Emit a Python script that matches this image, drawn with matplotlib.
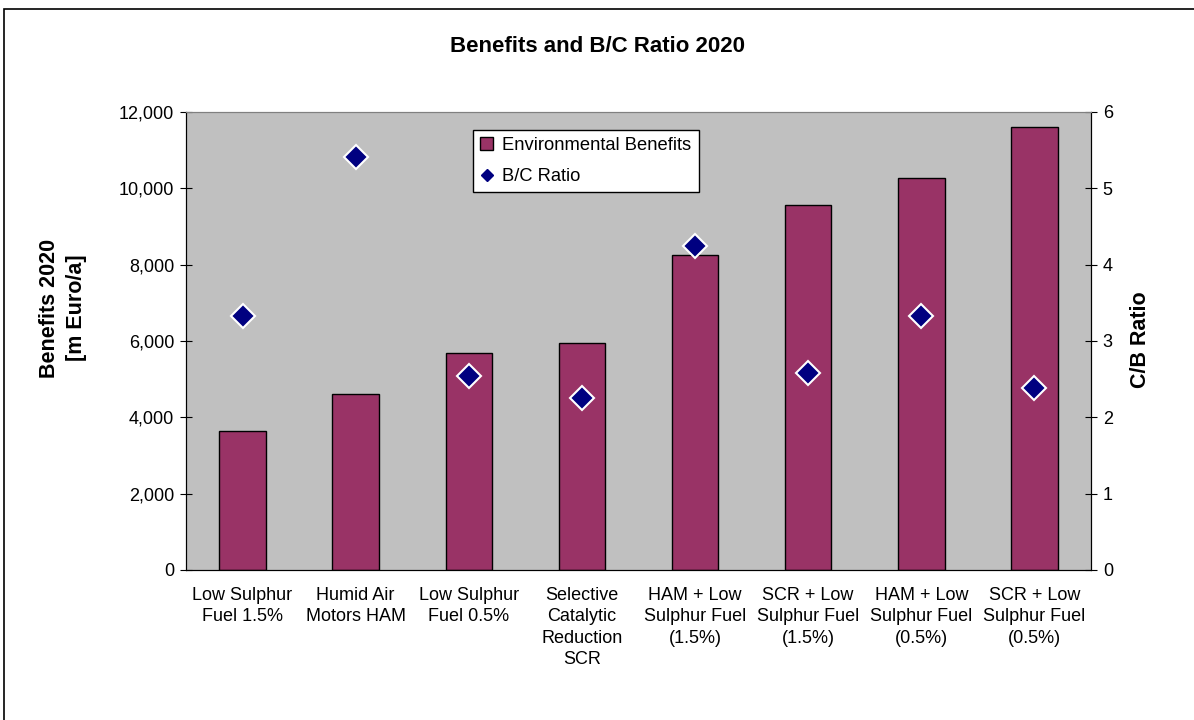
import matplotlib
matplotlib.use("Agg")
import matplotlib.pyplot as plt
from matplotlib.lines import Line2D
from matplotlib.patches import Patch, Rectangle
from matplotlib.ticker import FuncFormatter

import numpy as np

plt.rcParams['font.family'] = ['Liberation Sans', 'DejaVu Sans']

categories = ["Low Sulphur\nFuel 1.5%", "Humid Air\nMotors HAM", "Low Sulphur\nFuel 0.5%",
              "Selective\nCatalytic\nReduction\nSCR", "HAM + Low\nSulphur Fuel\n(1.5%)",
              "SCR + Low\nSulphur Fuel\n(1.5%)", "HAM + Low\nSulphur Fuel\n(0.5%)",
              "SCR + Low\nSulphur Fuel\n(0.5%)"]
benefits = [3640, 4610, 5680, 5950, 8250, 9570, 10270, 11600]
bc_ratio = [3.33, 5.41, 2.54, 2.25, 4.24, 2.58, 3.33, 2.38]

W, H = 1194, 720
fig = plt.figure(figsize=(W / 100, H / 100), dpi=100)

# plot area in pixels: x 186..1091, y 112..570
ax = fig.add_axes([186 / W, 1 - 570 / H, (1091 - 186) / W, (570 - 112) / H])
ax.set_facecolor("#C0C0C0")
x = np.arange(len(categories))
ax.bar(x, benefits, width=0.41, color="#993366", edgecolor="black", linewidth=1, zorder=2)
ax.set_xlim(-0.5, len(categories) - 0.5)
ax.set_ylim(0, 12000)
ax.set_yticks(np.arange(0, 12001, 2000))
ax.yaxis.set_major_formatter(FuncFormatter(lambda v, p: f"{int(v):,}"))
ax.set_xticks(x)
ax.set_xticklabels(categories, fontsize=13, linespacing=1.35)
ax.tick_params(axis="x", length=0, pad=12)
ax.tick_params(axis="y", direction="inout", length=9, labelsize=13, pad=4)

ax2 = ax.twinx()
ax2.plot(x, bc_ratio, linestyle="none", marker="D", markersize=12,
         markerfacecolor="#000080", markeredgecolor="white", markeredgewidth=1.5, zorder=3)
ax2.set_ylim(0, 6)
ax2.set_yticks(range(0, 7))
ax2.tick_params(axis="y", direction="inout", length=9, labelsize=13, pad=4)

for a in (ax, ax2):
    a.spines["top"].set_color("#808080")
    a.spines["left"].set_color("black")
    a.spines["right"].set_color("black")
    a.spines["bottom"].set_color("black")

handles = [Patch(facecolor="#993366", edgecolor="black", linewidth=1),
           Line2D([], [], linestyle="none", marker="D", markersize=6,
                  markerfacecolor="#000080", markeredgecolor="#000080")]
leg = ax2.legend(handles, ["Environmental Benefits", "B/C Ratio"], loc="upper left",
                 bbox_to_anchor=((473 - 186) / 905, (570 - 130) / 458), borderaxespad=0,
                 fontsize=13.2, frameon=True, fancybox=False, framealpha=1,
                 facecolor="white", handlelength=0.7, handletextpad=0.5,
                 borderpad=0.4, labelspacing=0.75)
leg.get_frame().set_edgecolor("black")
leg.get_frame().set_linewidth(1)

fig.text(597 / W, 1 - 46 / H, "Benefits and B/C Ratio 2020", ha="center", va="center",
         fontsize=16, fontweight="bold")
fig.text(63 / W, 1 - 308 / H, "Benefits 2020\n[m Euro/a]", ha="center", va="center",
         rotation=90, fontsize=15.5, fontweight="bold", linespacing=1.35)
fig.text(1140 / W, 1 - 340 / H, "C/B Ratio", ha="center", va="center",
         rotation=90, fontsize=15.5, fontweight="bold")

# chart border, runs off the right and bottom edges
fig.patches.append(Rectangle((4 / W, -0.1), 1.2, 1.1 - 9 / H, transform=fig.transFigure,
                             fill=False, edgecolor="black", linewidth=1.2))

fig.savefig("out.png", dpi=100)
